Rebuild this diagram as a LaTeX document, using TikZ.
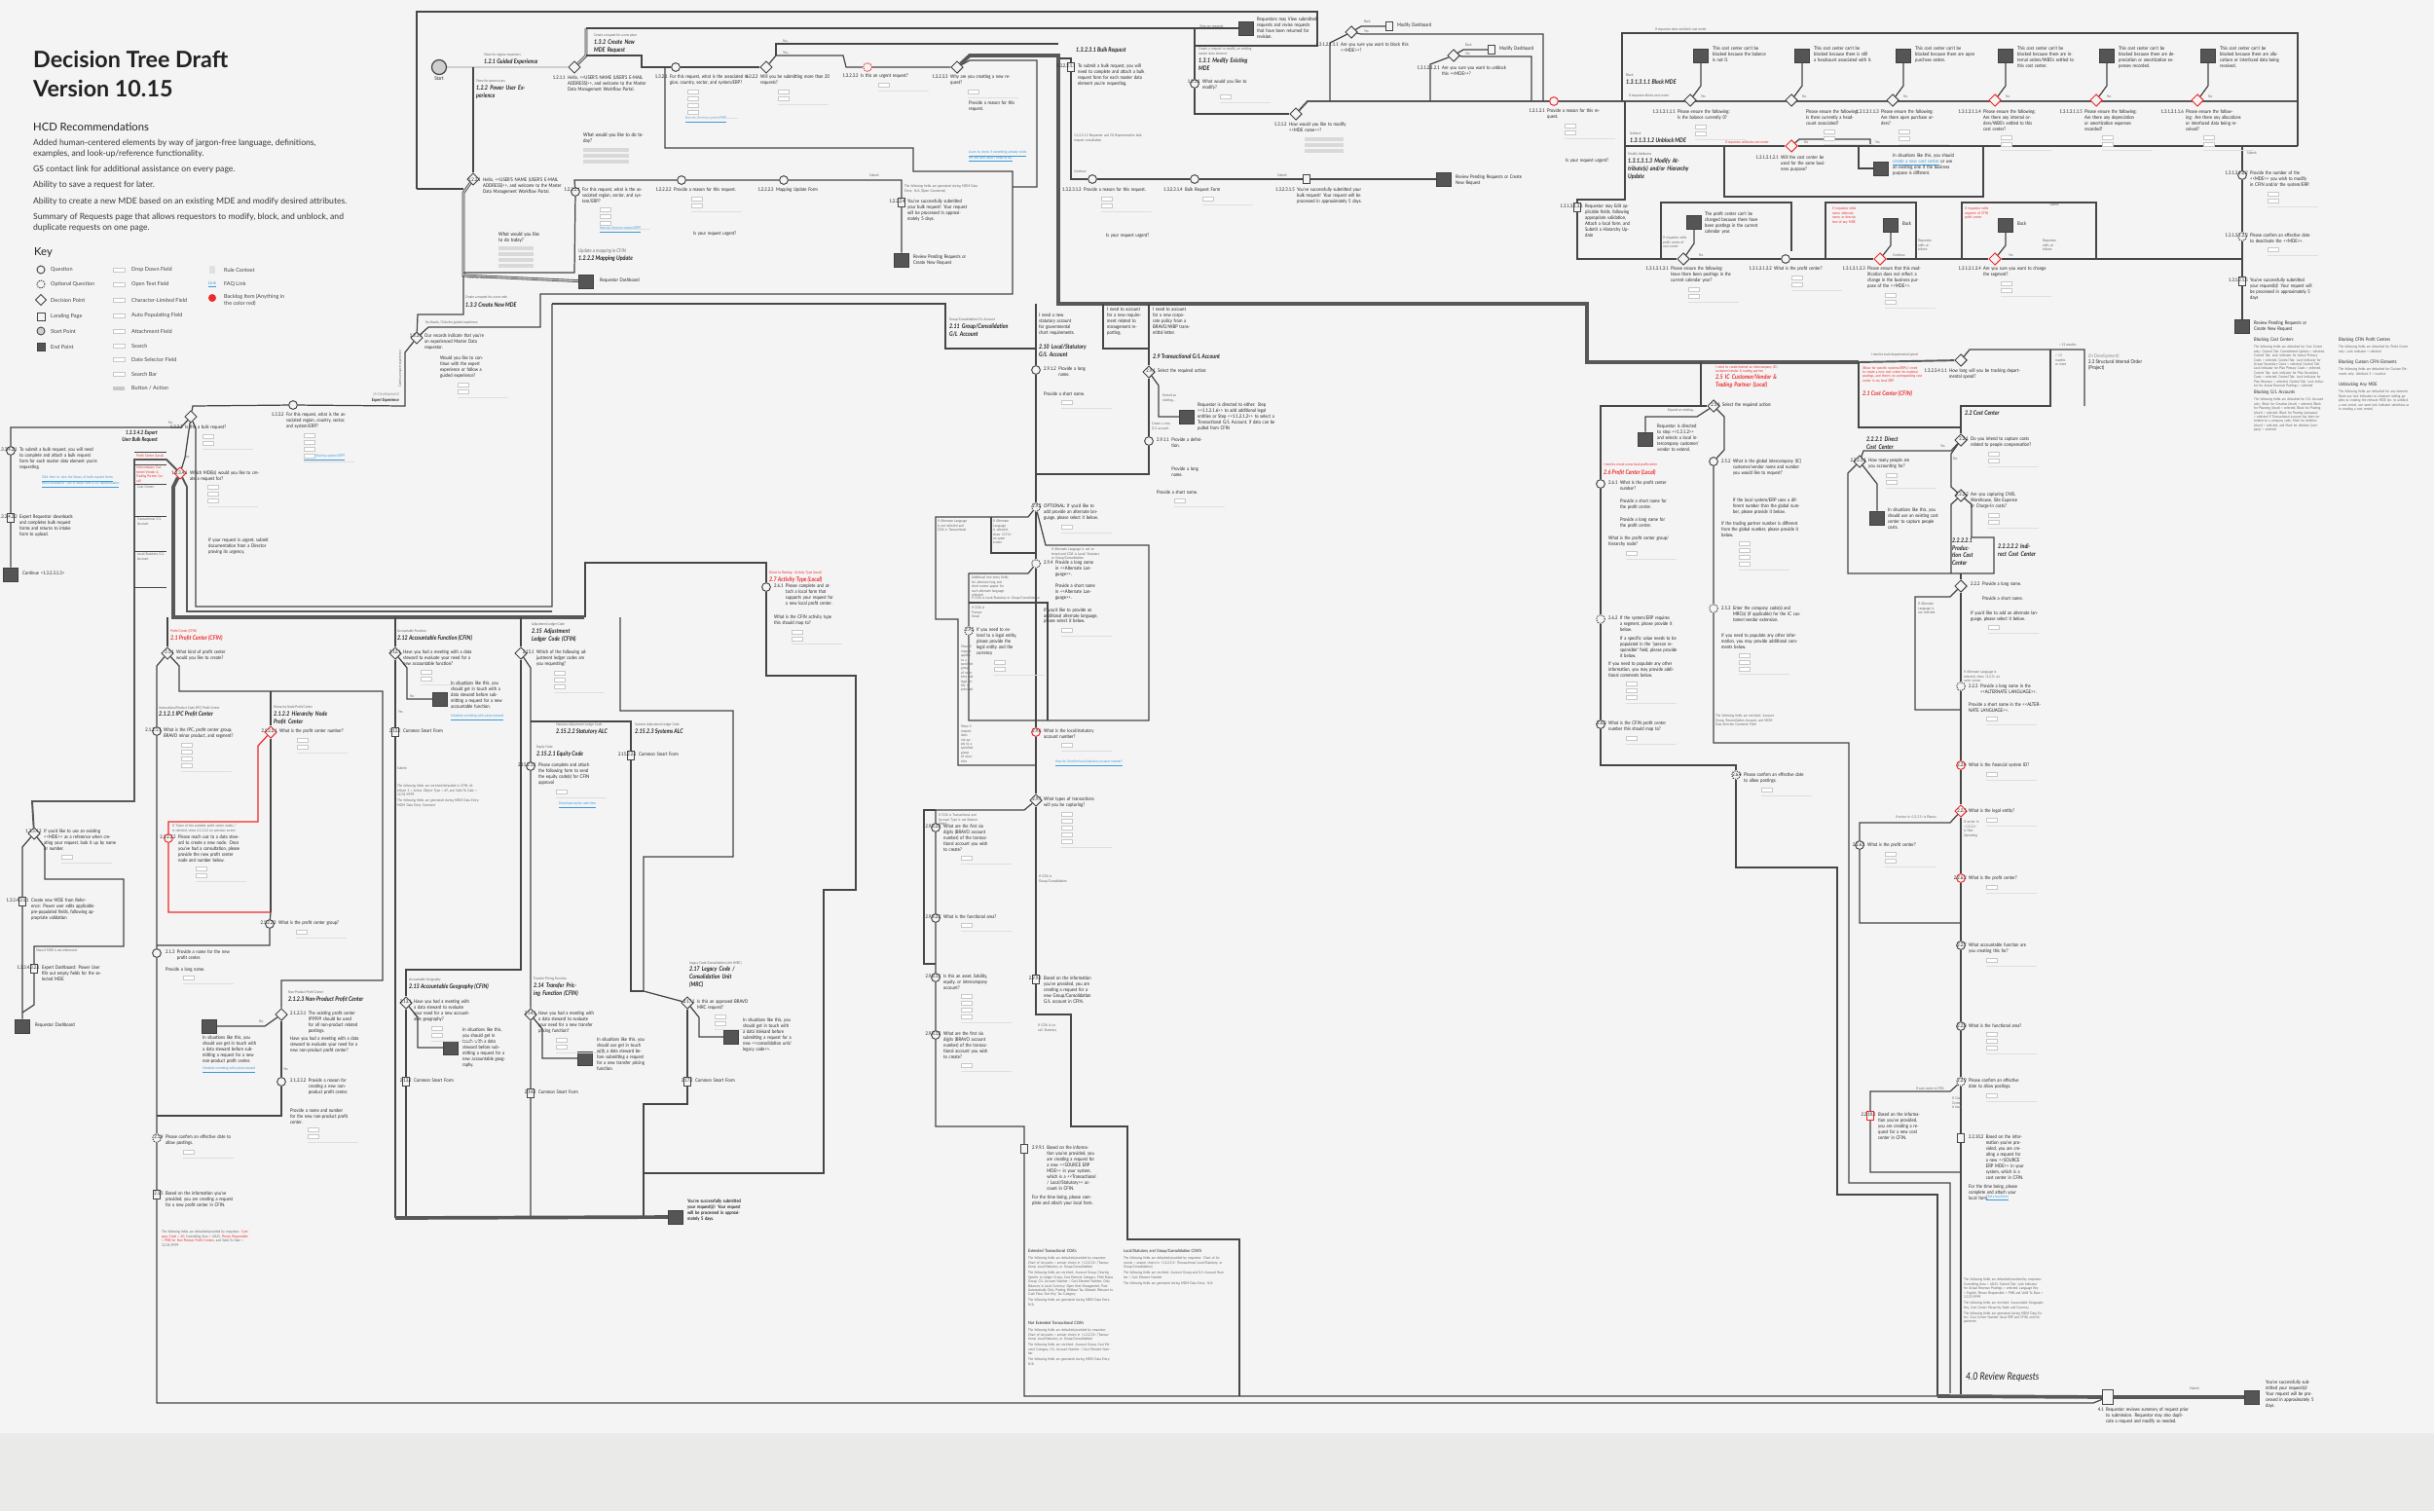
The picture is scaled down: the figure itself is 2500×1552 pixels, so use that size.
\documentclass[tikz,border=0pt]{standalone}
\usepackage{fontspec}
\setmainfont{Lato}
\newfontfamily\cnd[FakeStretch=0.84]{Lato}
\usepackage{xcolor}
\usetikzlibrary{positioning, shapes.geometric, backgrounds, calc}

\definecolor{bgc}{HTML}{F4F4F4}
\definecolor{bandc}{HTML}{EAEAE8}
\definecolor{lnc}{HTML}{464646}
\definecolor{spc}{HTML}{585858}
\definecolor{epc}{HTML}{555555}
\definecolor{stc}{HTML}{CFCFCF}
\definecolor{redc}{HTML}{EE2A2A}
\definecolor{txc}{HTML}{222222}
\definecolor{gtc}{HTML}{8E8E8E}
\definecolor{lkc}{HTML}{3A9AD9}
\definecolor{fldc}{HTML}{C8C8C8}

\newcommand{\qnum}[2]{\setbox0=\hbox{#1\enspace}\leftskip=\wd0\noindent\hspace*{-\wd0}\box0 #2}

\begin{document}
\begin{tikzpicture}[x=0.04cm, y=-0.04cm,
    ln/.style={draw=lnc, line width=1.4pt},
    rln/.style={draw=redc, line width=1.4pt},
    spine/.style={draw=spc, line width=4.2pt},
    mid/.style={draw=spc, line width=2.2pt},
    dbl/.style={draw=lnc, line width=0.9pt, double=stc, double distance=1.4pt},
    qn/.style={circle, draw=lnc, fill=bgc, line width=1.1pt, minimum size=0.35cm, inner sep=0pt},
    oq/.style={qn, dash pattern=on 1.5pt off 1.2pt},
    dp/.style={diamond, draw=lnc, fill=bgc, line width=1.1pt, minimum size=0.5cm, inner sep=0pt},
    lp/.style={rectangle, draw=lnc, fill=bgc, line width=1.1pt, minimum width=0.3cm, minimum height=0.36cm, inner sep=0pt},
    ep/.style={rectangle, draw=black!75, fill=epc, line width=0.8pt, minimum width=0.6cm, minimum height=0.56cm, inner sep=0pt},
    sp/.style={circle, draw=lnc, fill=stc, line width=1.4pt, minimum size=0.6cm, inner sep=0pt},
    fld/.style={draw=fldc, fill=white, line width=0.4pt},
    sep/.style={draw=black!13, line width=0.5pt},
    qtx/.style={anchor=north west, inner sep=0pt, align=left, text width=#1, text=txc, font=\cnd\fontsize{5.7}{6.8}\selectfont},
    qtx/.default=2.6cm,
    hdx/.style={anchor=north west, inner sep=0pt, align=left, text=txc, font=\cnd\bfseries\itshape\fontsize{7.3}{8.6}\selectfont},
    rhd/.style={hdx, text=redc},
    lbl/.style={anchor=north west, inner sep=0pt, align=left, text=gtc!70!black, font=\cnd\fontsize{4.2}{5}\selectfont},
    rlbl/.style={lbl, text=redc},
    lnk/.style={lbl, text=lkc},
    keyt/.style={anchor=west, inner sep=0pt, text=txc!85, font=\fontsize{6.3}{7.5}\selectfont}
]
\useasboundingbox (0,0) rectangle (2500,1552);

% ---------- title and key
\node[anchor=north west, inner sep=0pt, align=left, text=txc, font=\bfseries\fontsize{26.5}{34}\selectfont] (title) at (34,52) {Decision Tree Draft\\Version 10.15};
\node[anchor=north west, inner sep=0pt, text=txc, font=\fontsize{12.8}{15}\selectfont] (hcd) at (34,126) {HCD Recommendations};
\node[anchor=north west, inner sep=0pt, align=left, text=txc!90, font=\fontsize{9.8}{12.5}\selectfont] (hcd1) at (34,143) {Added human-centered elements by way of jargon-free language, definitions,\\examples, and look-up/reference functionality.};
\node[anchor=north west, inner sep=0pt, text=txc!90, font=\fontsize{9.8}{12.5}\selectfont] (hcd2) at (34,170) {GS contact link for additional assistance on every page.};
\node[anchor=north west, inner sep=0pt, text=txc!90, font=\fontsize{9.8}{12.5}\selectfont] (hcd3) at (34,186) {Ability to save a request for later.};
\node[anchor=north west, inner sep=0pt, text=txc!90, font=\fontsize{9.8}{12.5}\selectfont] (hcd4) at (34,203) {Ability to create a new MDE based on an existing MDE and modify desired attributes.};
\node[anchor=north west, inner sep=0pt, align=left, text=txc!90, font=\fontsize{9.8}{12.5}\selectfont] (hcd5) at (34,219) {Summary of Requests page that allows requestors to modify, block, and unblock, and\\duplicate requests on one page.};
\node[anchor=north west, inner sep=0pt, text=txc, font=\fontsize{12.8}{15}\selectfont] (key) at (35,254) {Key};

\node[qn, minimum size=0.32cm] (kq) at (42,277) {};
\node[oq, minimum size=0.32cm] (koq) at (42,292) {};
\node[dp, minimum size=0.46cm] (kd) at (42,308) {};
\node[lp, minimum width=0.32cm, minimum height=0.32cm] (kl) at (42,325) {};
\node[sp, minimum size=0.32cm, line width=1pt] (ks) at (42,340) {};
\node[ep, minimum width=0.32cm, minimum height=0.32cm] (ke) at (42,356) {};
\foreach \yy/\tt [count=\i] in {277/Question, 292/Optional Question, 308/Decision Point, 325/Landing Page, 340/Start Point, 356/End Point}
  \node[keyt] (ka\i) at (52,\yy) {\tt};
\foreach \yy/\tt [count=\i] in {277/Drop Down Field, 292/Open Text Field, 308/Character-Limited Field, 324/Auto Populating Field, 340/Attachment Field, 355/Search / Look Up Field, 369/Date Selector Field, 384/Search Bar}
  {\draw[fld] (116,\yy-2) rectangle (128,\yy+2);
   \node[keyt] (kb\i) at (135,\yy) {\tt};}
\fill[fldc] (116,397) rectangle (128,401);
\node[keyt] (kb9) at (135,399) {Button / Action};
\fill[black!12] (215,273) rectangle (221,281);
\node[keyt] (kc1) at (230,277) {Rule Context};
\node[anchor=center, inner sep=0pt, text=lkc, font=\fontsize{5}{6}\selectfont] (kc0) at (218,292) {\underline{Link}};
\node[keyt] (kc2) at (230,292) {FAQ Link};
\fill[redc] (218,306) circle (4);
\node[keyt, anchor=north west, align=left] (kc3) at (230,302) {Backlog Item (Anything in\\the color red)};

% ---------- markers: start, guided and power user
\node[sp] (st) at (451,69) {};
\node[dp] (d1211) at (590,69) {};
\node[dp] (d1221) at (486,184) {};
\node[qn] (q1321) at (694,69) {};
\node[dp] (d1322) at (787,69) {};
\node[oq, draw=redc] (q13232) at (891,69) {};
\node[dp] (d13233) at (983,69) {};
\node[qn] (q12221) at (591,197) {};
\node[qn] (q12222) at (700,185) {};
\node[qn] (q12223) at (805,185) {};
\node[lp] (l12224) at (926,208) {};
\node[ep] (e_rp1) at (926,267) {};
\node[ep] (e_rd1) at (602,289) {};
\node[dp] (d1331) at (428,347) {};
\node[ep] (e_rv) at (1280,29) {};
\node[qn] (q1311) at (1227,86) {};
\node[dp] (d1312) at (1331,117) {};
\node[dp] (d131211) at (1388,33) {};
\node[lp] (l_md1) at (1427,27) {};
\node[dp] (d131212) at (1493,57) {};
\node[lp] (l_md2) at (1532,51) {};
\node[qn, draw=redc] (q13131) at (1596,104) {};
\node[lp] (l132311) at (1100,69) {};
\node[qn] (q132313) at (1122,184) {};
\node[qn] (q132314) at (1227,184) {};
\node[lp] (l132315) at (1342,184) {};
\node[ep] (e_rp2) at (1483,184) {};

% ---------- block / unblock / modify
\foreach \bx/\sx [count=\i] in {1736/1747, 1840/1851, 1944/1955}
  {\node[ep] (sq\i) at (\sx,57) {}; \node[dp] (bd\i) at (\bx,103) {};}
\foreach \bx/\sx [count=\i from 4] in {2049/2060, 2153/2164, 2257/2268}
  {\node[ep] (sq\i) at (\sx,57) {}; \node[dp, draw=redc] (bd\i) at (\bx,103) {};}
\node[dp, draw=redc] (d131312) at (1840,150) {};
\node[ep] (e_unb) at (1932,173) {};
\node[qn] (q1313122) at (2303,180) {};
\node[oq] (q1313123) at (2303,243) {};
\node[lp] (l131315) at (2303,289) {};
\node[ep] (e_rp3) at (2303,335) {};
\node[lp] (l13131) at (1620,213) {};
\node[ep] (e_pc) at (1740,228) {};
\node[dp] (d131313) at (1729,266) {};
\node[qn] (q1313132) at (1834,266) {};
\node[ep] (e_back1) at (1942,231) {};
\node[dp, draw=redc] (d1313133) at (1931,266) {};
\node[ep] (e_back2) at (2060,231) {};
\node[dp, draw=redc] (d1313134) at (2049,266) {};

% ---------- expert experience, left column
\node[qn] (q1332) at (301,416) {};
\node[dp] (d1333) at (196,428) {};
\node[qn] (q133421) at (11,463) {};
\node[lp] (l133422) at (11,532) {};
\node[ep] (e_cont) at (11,590) {};
\node[dp, draw=redc] (d13341) at (185,486) {};
\node[dp] (d13342) at (35,856) {};
\node[lp] (l13343111) at (23,926) {};
\node[lp] (l13343211) at (35,995) {};
\node[ep] (e_rd2) at (23,1054) {};

% ---------- 2.1 profit center and CFIN elements
\node[dp] (d211) at (172,671) {};
\node[qn] (q21211) at (161,751) {};
\node[dp, draw=redc] (d21221) at (278,752) {};
\node[qn, draw=redc] (q21222) at (173,861) {};
\node[qn] (q212223) at (277,949) {};
\node[qn] (q213) at (161,979) {};
\node[dp] (d21231) at (289,1042) {};
\node[ep] (e_npc) at (215,1054) {};
\node[qn] (q21232) at (289,1111) {};
\node[oq] (q214) at (161,1169) {};
\node[lp] (l215) at (161,1227) {};
\node[dp] (d2121) at (406,671) {};
\node[ep] (e_af) at (452,718) {};
\node[lp] (l2122) at (406,752) {};
\node[dp] (d2151) at (535,671) {};
\node[qn] (q215211) at (545,787) {};
\node[lp] (l215221) at (648,776) {};
\node[dp] (d2131) at (417,1030) {};
\node[ep] (e_ag) at (463,1076) {};
\node[lp] (l2132) at (417,1111) {};
\node[dp] (d2141) at (545,1042) {};
\node[ep] (e_tp) at (601,1087) {};
\node[lp] (l2142) at (545,1123) {};
\node[dp] (d2171) at (706,1030) {};
\node[ep] (e_mrc) at (751,1065) {};
\node[lp] (l2172) at (706,1111) {};
\node[ep] (e_done1) at (694,1250) {};
\node[qn] (q261) at (787,603) {};

% ---------- 2.9 G/L accounts
\node[qn] (q2912) at (1064,380) {};
\node[dp] (d291) at (1180,382) {};
\node[ep] (e_291) at (1219,428) {};
\node[qn] (q2911) at (1180,453) {};
\node[oq] (q293) at (1064,521) {};
\node[oq] (q294) at (1064,579) {};
\node[oq] (q295) at (995,648) {};
\node[qn, draw=redc] (q296) at (1064,752) {};
\node[dp] (d297) at (1064,822) {};
\node[qn] (q29821) at (961,850) {};
\node[qn] (q29822) at (961,943) {};
\node[qn] (q29811) at (961,1004) {};
\node[qn] (q29812) at (961,1063) {};
\node[lp] (l2992) at (1064,1006) {};
\node[lp] (l2991) at (1052,1180) {};

% ---------- 2.5, 2.6, 2.2 and review
\node[dp] (d132341) at (2014,370) {};
\node[dp] (d251) at (1760,417) {};
\node[ep] (e_251) at (1690,451) {};
\node[qn] (q252) at (1760,474) {};
\node[oq] (q253) at (1760,625) {};
\node[qn] (q261b) at (1644,497) {};
\node[oq] (q262) at (1644,636) {};
\node[qn] (q263) at (1644,744) {};
\node[oq] (q264) at (1783,796) {};
\node[dp] (d221) at (2014,452) {};
\node[dp] (d22211) at (1910,474) {};
\node[ep] (e_2221) at (1928,532) {};
\node[dp] (d2222) at (2014,509) {};
\node[dp] (d222) at (2014,602) {};
\node[oq] (q223) at (2014,705) {};
\node[qn, draw=redc] (q224) at (2014,786) {};
\node[dp, draw=redc] (d225) at (2014,833) {};
\node[qn] (q2261) at (1910,868) {};
\node[qn, draw=redc] (q2262) at (2014,902) {};
\node[qn] (q227) at (2014,971) {};
\node[qn] (q228) at (2014,1054) {};
\node[oq] (q229) at (2014,1111) {};
\node[lp, draw=redc] (l22101) at (1921,1146) {};
\node[lp] (l22102) at (2014,1169) {};
\node[lp, minimum width=0.44cm, minimum height=0.6cm] (l41) at (2165,1435) {};
\node[ep] (e_done2) at (2313,1435) {};

% ---------- connectors
\begin{scope}[on background layer]
\fill[bgc] (0,0) rectangle (2500,1472);
\fill[bandc] (0,1472) rectangle (2500,1552);

\draw[ln] (428,194) -- (428,12) -- (1353,12) -- (1353,47) -- (1227,47);
\draw[dbl] (st) -- (d1211);
\draw[ln] (486,69) -- (d1221);
\draw[ln] (428,194) -- (476,194);
\draw[dbl] (d1221) -- (476,198) -- (476,283) -- (e_rd1);
\draw[ln] (476,280) -- (590,280) -- (q12221) -- (590,185) -- (q12222) -- (q12223) -- (926,185) -- (l12224) -- (e_rp1);
\draw[dbl] (d1211) -- (602,57) -- (602,29);
\draw[ln] (602,29) -- (1227,29) -- (q1311) -- (1227,117) -- (d1312);
\draw[ln] (1227,29) -- (e_rv);
\draw[ln] (602,57) -- (659,57) -- (659,69) -- (q1321) -- (d1322);
\draw[ln] (d1322) -- (797,57) -- (866,57) -- (869,69) -- (q13232) -- (d13233);
\draw[ln] (797,57) -- (797,45) -- (1087,45);
\draw[ln] (d13233) -- (996,62) -- (1065,62) -- (1065,192) -- (1040,192);
\draw[ln] (683,69) -- (683,152) -- (938,152) -- (938,176) -- (1040,176) -- (1040,302) -- (555,302) -- (555,336) -- (440,336) -- (d1331);
\draw[ln] (d1331) -- (429,323) -- (476,323) -- (476,283);
\draw[ln] (1087,60) -- (1100,60) -- (l132311) -- (1100,184) -- (q132313) -- (q132314) -- (l132315) -- (e_rp2);
\draw[spine] (d13233) -- (996,57) -- (1087,57) -- (1087,312) -- (1630,312) -- (1630,372) -- (1909,372);
\draw[mid] (1909,372) -- (d132341);

\draw[mid] (d1312) -- (1343,104) -- (2360,104);
\draw[ln] (1366,104) -- (1366,44) -- (d131211);
\draw[ln] (d131211) -- (1398,27) -- (l_md1);
\draw[ln] (d131211) -- (1398,35) -- (1585,35) -- (1585,104);
\draw[ln] (1469,104) -- (1469,66) -- (d131212);
\draw[ln] (d131212) -- (1503,51) -- (l_md2);
\draw[ln] (d131212) -- (1503,58) -- (1573,58) -- (1573,104);
\draw[ln] (1666,104) -- (1666,34) -- (2360,34) -- (2360,150);
\foreach \i/\sx in {1/1747, 2/1851, 3/1955, 4/2060, 5/2164, 6/2268}
  \draw[ln] (sq\i) -- (\sx,88) -- (bd\i);
\draw[ln] (1669,104) -- (1669,205) -- (1620,205) -- (l13131) -- (1620,266) -- (d131313) -- (q1313132) -- (d1313133) -- (d1313134) -- (2303,266);
\draw[ln] (1669,150) -- (d131312) -- (2360,150);
\draw[ln] (d131312) -- (1848,143) -- (1921,143) -- (1921,150);
\draw[ln] (1771,150) -- (1771,202) -- (2037,202) -- (2037,150);
\draw[ln] (1909,150) -- (1909,173) -- (e_unb);
\draw[ln] (2303,150) -- (q1313122) -- (q1313123) -- (l131315) -- (e_rp3);
\draw[ln] (1706,266) -- (1706,208) -- (1840,208) -- (1840,258);
\draw[ln] (1875,266) -- (1875,208) -- (1968,208) -- (1968,266);
\draw[ln] (2015,266) -- (2015,208) -- (2153,208) -- (2153,266);
\draw[ln] (e_pc) -- (1740,250) -- (d131313);
\draw[ln] (e_back1) -- (1942,252) -- (d1313133);
\draw[ln] (e_back2) -- (2060,252) -- (d1313134);

\draw[ln] (d1331) -- (416,362) -- (416,417) -- (q1332) -- (198,417) -- (d1333);
\draw[ln] (567,312) -- (971,312) -- (971,358) -- (1064,358);
\draw[ln] (d1333) -- (201,440) -- (201,623) -- (567,623) -- (567,312);
\draw[ln] (d1333) -- (186,439) -- (11,439) -- (q133421) -- (l133422) -- (e_cont);
\draw[ln] (d1333) -- (190,470) -- (d13341);
\draw[spine] (d13341) -- (178,500) -- (178,634) -- (600,634);
\draw[mid] (d13341) -- (192,500) -- (192,628) -- (567,628);
\draw[mid] (d13341) -- (171,472) -- (138,472) -- (138,823) -- (33,823) -- (d13342);
\foreach \yy in {464,477,497,530,566,603}
  \draw[ln, line width=0.7pt] (138,\yy) -- (171,\yy);
\draw[ln] (d13342) -- (23,870) -- (l13343111) -- (e_rd2);
\draw[ln] (d13342) -- (46,870) -- (46,903) -- (127,903) -- (127,972) -- (35,972) -- (l13343211) -- (35,1032) -- (23,1040);

\draw[ln] (172,634) -- (d211);
\draw[ln] (d211) -- (161,684) -- (q21211) -- (q213) -- (q214) -- (l215) -- (161,1441) -- (2150,1441) -- (l41);
\draw[ln] (d211) -- (184,684) -- (184,710) -- (393,710) -- (393,1007) -- (289,1007) -- (d21231);
\draw[ln] (278,710) -- (d21221) -- (278,937);
\draw[rln] (d21221) -- (265,766) -- (265,844) -- (173,844) -- (q21222) -- (173,937) -- (278,937);
\draw[ln] (278,937) -- (q212223) -- (277,971) -- (161,971);
\draw[ln] (d21231) -- (272,1054) -- (e_npc);
\draw[ln] (d21231) -- (q21232) -- (289,1146) -- (161,1146);

\draw[ln] (406,634) -- (d2121) -- (l2122) -- (406,1251);
\draw[ln] (d2121) -- (418,686) -- (418,718) -- (e_af);
\draw[ln] (535,634) -- (d2151) -- (535,996) -- (417,996) -- (d2131) -- (l2132) -- (417,1251);
\draw[ln] (d2131) -- (429,1045) -- (429,1076) -- (e_ag);
\draw[ln] (d2151) -- (545,686) -- (q215211) -- (d2141) -- (l2142) -- (545,1251);
\draw[ln] (d2141) -- (557,1057) -- (557,1087) -- (e_tp);
\draw[ln] (545,741) -- (648,741) -- (l215221) -- (648,1018) -- (661,1018);
\draw[ln] (637,634) -- (637,730) -- (753,730) -- (753,880) -- (661,880) -- (661,1018) -- (d2171);
\draw[ln] (d2171) -- (718,1045) -- (718,1065) -- (e_mrc);
\draw[ln] (d2171) -- (l2172) -- (706,1134) -- (661,1134) -- (661,1251);
\draw[spine] (406,1251) -- (e_done1);
\draw[ln] (661,1205) -- (846,1205) -- (846,914) -- (879,914) -- (879,694) -- (787,694) -- (q261) -- (787,578) -- (601,578) -- (601,634);

\draw[ln] (1064,312) -- (q2912) -- (1064,487);
\draw[ln] (1133,312) -- (1133,358) -- (1180,358);
\draw[ln] (1180,312) -- (d291) -- (q2911) -- (1180,487) -- (1064,487);
\draw[ln] (d291) -- (1190,396) -- (1190,428) -- (e_291);
\draw[ln] (1064,487) -- (q293) -- (q294) -- (q296) -- (d297);
\draw[ln] (q293) -- (1056,531) -- (961,531) -- (961,636) -- (984,636) -- (984,786) -- (1064,786);
\draw[ln] (1018,531) -- (1018,568) -- (1064,568);
\draw[ln] (q293) -- (1074,560) -- (1180,560) -- (1180,740) -- (1064,740);
\draw[ln] (q294) -- (1056,589) -- (995,589) -- (q295) -- (995,740) -- (1064,740);
\draw[ln] (995,619) -- (1076,619) -- (1076,740);
\draw[ln] (d297) -- (1052,832) -- (961,832) -- (q29821) -- (q29822) -- (q29811) -- (q29812) -- (961,1157) -- (1052,1157) -- (l2991) -- (1052,1434) -- (1990,1434);
\draw[ln] (961,832) -- (949,832) -- (949,990) -- (961,990);
\draw[ln] (d297) -- (1064,840) -- (l2992) -- (1064,1042) -- (1100,1042) -- (1100,1157) -- (1158,1157) -- (1158,1273) -- (1273,1273) -- (1273,1434);

\draw[ln] (1747,372) -- (1747,417) -- (d251);
\draw[ln] (1747,417) -- (1644,417) -- (q261b) -- (q262) -- (q263) -- (1644,786) -- (1783,786) -- (q264) -- (1783,891) -- (1887,891) -- (1887,1227) -- (1990,1227) -- (1990,1434);
\draw[ln] (d251) -- (1743,428) -- (1690,428) -- (e_251);
\draw[ln] (d251) -- (1771,428) -- (1771,462) -- (q252) -- (q253) -- (1760,763) -- (1899,763) -- (1899,1215) -- (2003,1215) -- (2003,1431);
\draw[ln] (1909,372) -- (1909,439) -- (2014,439) -- (d221);
\draw[ln] (d132341) -- (2023,359) -- (2141,359) -- (2141,417);
\draw[ln] (2106,359) -- (2106,417) -- (2014,417) -- (2014,439);
\draw[ln] (d221) -- (2004,463) -- (1914,463) -- (d22211);
\draw[ln] (d22211) -- (1898,486) -- (1898,589) -- (2048,589) -- (2048,552) -- (2025,552) -- (2025,518) -- (d2222);
\draw[ln] (d22211) -- (1928,497) -- (e_2221);
\draw[ln] (d221) -- (2004,466) -- (2004,500) -- (d2222);
\draw[ln] (d2222) -- (2004,518) -- (2004,589);
\draw[ln] (2014,589) -- (d222) -- (q223) -- (q224) -- (d225) -- (q2262) -- (q227) -- (q228) -- (q229) -- (l22102) -- (2014,1432);
\draw[ln] (d222) -- (2003,613) -- (1967,613) -- (1967,729) -- (2014,729);
\draw[ln] (d225) -- (2003,845) -- (1910,845) -- (q2261) -- (1910,948) -- (2014,948);
\draw[ln] (q229) -- (2003,1121) -- (1921,1121) -- (l22101) -- (1921,1204) -- (2014,1204);
\draw[spine] (1990,1434) -- (l41) -- (e_done2);
\end{scope}

% ---------- texts, top flow
\node[anchor=north, inner sep=0pt, text=txc, font=\cnd\fontsize{6}{7}\selectfont] (tst) at (451,78) {Start};
\node[lbl] (t121a) at (497,55) {Show for regular requestors};
\node[hdx] (t121) at (497,61) {1.2.1 Guided Experience};
\node[lbl] (t122a) at (489,82) {Show for power users};
\node[hdx, text width=2.2cm] (t122) at (489,88) {1.2.2 Power User Experience};
\node[lbl] (t132a) at (610,35) {Create a request for a new place};
\node[hdx, text width=2.2cm] (t132) at (610,41) {1.3.2 Create New MDE Request};
\node[qtx=3.4cm] (t1211) at (583,77) {\qnum{1.2.1.1}{Hello, <<USER'S NAME (USER'S E-MAIL ADDRESS)>>, and welcome to the Master Data Management Workflow Portal.}};
\node[qtx=2.6cm, font=\cnd\fontsize{6}{7.2}\selectfont] (t1211b) at (599,136) {What would you like to do today?};
\foreach \yy [count=\i] in {152,158,164} \fill[black!15] (599,\yy) rectangle (646,\yy+4);
\node[qtx=3.5cm] (t1321) at (688,77) {\qnum{1.3.2.1}{For this request, what is the associated region, country, sector, and system/ERP?}};
\node[lnk] (t1321l) at (704,120) {\underline{How do I find my system/ERP?}};
\node[qtx=3cm] (t1322) at (781,77) {\qnum{1.3.2.2}{Will you be submitting more than 20 requests?}};
\node[lbl] (tno1) at (804,41) {No...};
\node[lbl] (tyes1) at (804,53) {Yes...};
\node[qtx=2.8cm] (t13232) at (884,76) {\qnum{1.3.2.3.2}{Is this an urgent request?}};
\node[qtx=2.7cm] (t13233) at (976,77) {\qnum{1.3.2.3.3}{Why are you creating a new request?}};
\node[qtx=2cm] (t13233b) at (995,104) {Provide a reason for this request.};
\node[lnk, text width=2.2cm] (t13233l) at (995,155) {\underline{Learn to check if something already exists}\\\underline{I'm not sure what I need to do.}};
\node[qtx=3.3cm] (t1221) at (496,182) {\qnum{1.2.2.1}{Hello, <<USER'S NAME (USER'S E-MAIL ADDRESS)>>, and welcome to the Master Data Management Workflow Portal.}};
\node[qtx=1.9cm, font=\cnd\fontsize{6}{7.2}\selectfont] (t1221b) at (512,238) {What would you like to do today?};
\foreach \yy [count=\i] in {253,259,265,271} \fill[black!15] (512,\yy) rectangle (548,\yy+4);
\node[qtx=2.6cm] (t12221) at (598,193) {\qnum{1.2.2.2.1}{For this request, what is the associated region, sector, and system/ERP?}};
\node[lnk] (t12221l) at (616,233) {\underline{How do I find my system/ERP?}};
\node[qtx=3cm] (t12222) at (692,193) {\qnum{1.2.2.2.2}{Provide a reason for this request.}};
\node[qtx=2cm] (t12222b) at (712,238) {Is your request urgent?};
\node[qtx=3.4cm] (t12223) at (797,193) {\qnum{1.2.2.2.3}{Mapping Update Form}};
\node[lbl] (tsub1) at (893,179) {Submit};
\node[lbl, text width=3cm] (t1222f) at (929,190) {The following fields are generated during MDM Data Entry: N/A (Open Comments)};
\node[qtx=2.6cm] (t12224) at (932,205) {\qnum{1.2.2.2.4}{You've successfully submitted your bulk request! Your request will be processed in approximately 5 days.}};
\node[qtx=2.3cm] (trp1) at (938,262) {Review Pending Requests or Create New Request};
\node[anchor=north west, inner sep=0pt, text=gtc!80!black, font=\cnd\itshape\fontsize{6}{7}\selectfont] (t1222a) at (594,255) {Update a mapping in CFIN};
\node[hdx] (t1222) at (594,263) {1.2.2.2 Mapping Update};
\node[qtx=2.2cm] (trd1) at (616,286) {Requestor Dashboard};
\node[lbl] (tvmr1) at (480,284) {View my requests};
\node[lbl] (t133a) at (478,304) {Create a request for a new mde};
\node[hdx] (t133) at (478,311) {1.3.3 Create New MDE};
\node[lbl] (tnth) at (437,330) {No thanks, I'll do the guided experience};
\node[qtx=2.5cm] (t1331) at (436,343) {\qnum{1.3.3.1}{Our records indicate that you're an experienced Master Data requestor.}};
\node[qtx=2cm] (t1331b) at (452,366) {Would you like to continue with the expert experience or follow a guided experience?};
\node[anchor=north east, inner sep=0pt, align=right, text=txc, font=\cnd\fontsize{5}{6.2}\selectfont] (texp) at (410,403) {\textit{\color{gtc}(In Development)}\\\textbf{\textit{Expert Experience}}};
\node[lbl, rotate=90, anchor=south west] (tcee) at (413,398) {Continue expert experience};

\node[qtx=2.5cm] (trv) at (1291,18) {Requestors may View submitted requests and revise requests that have been returned for revision.};
\node[lbl] (tvmr2) at (1232,26) {View my requests};
\node[lbl, text width=2.3cm] (t131a) at (1231,49) {Create a request to modify an existing master data element.};
\node[hdx, text width=2.3cm] (t131) at (1231,60) {1.3.1 Modify Existing MDE};
\node[qtx=2.1cm] (t1311) at (1235,82) {\qnum{1.3.1.1}{What would you like to modify?}};
\node[qtx=2.8cm] (t1312) at (1324,126) {\qnum{1.3.1.2}{How would you like to modify <<MDE name>>?}};
\foreach \yy [count=\i] in {141,147,153} \fill[black!15] (1340,\yy) rectangle (1380,\yy+4);
\node[lbl] (tbk1) at (1401,21) {Back};
\node[lbl] (tys1) at (1401,31) {Yes};
\node[qtx=1.4cm] (tmd1) at (1435,24) {Modify Dashboard};
\node[qtx=2.8cm] (t131211) at (1377,44) {\qnum{1.3.1.2.1.1.1}{Are you sure you want to block this <<MDE>>?}};
\node[lbl] (tbk2) at (1505,45) {Back};
\node[lbl] (tys2) at (1505,54) {Yes};
\node[qtx=1.4cm] (tmd2) at (1540,48) {Modify Dashboard};
\node[qtx=2.9cm] (t131212) at (1481,68) {\qnum{1.3.1.2.1.2.1}{Are you sure you want to unblock this <<MDE>>?}};
\node[qtx=2.4cm] (t13131) at (1589,112) {\qnum{1.3.1.3.1}{Provide a reason for this request.}};
\node[qtx=2cm] (t13131b) at (1608,163) {Is your request urgent?};
\node[hdx] (t1323) at (1105,49) {1.3.2.3.1 Bulk Request};
\node[qtx=2.9cm] (t132311) at (1107,66) {\qnum{1.3.2.3.1.1}{To submit a bulk request, you will need to complete and attach a bulk request form for each master data element you're requesting.}};
\node[lbl, text width=2.8cm] (t132312) at (1103,138) {1.3.2.3.1.2 Requestor and GS Representative bulk request consultation};
\node[lbl] (tcont) at (1103,175) {Continue};
\node[qtx=3cm] (t132313) at (1113,193) {\qnum{1.3.2.3.1.3}{Provide a reason for this request.}};
\node[qtx=2cm] (t132313b) at (1136,240) {Is your request urgent?};
\node[qtx=2.6cm] (t132314) at (1217,193) {\qnum{1.3.2.3.1.4}{Bulk Request Form}};
\node[lbl] (tsub2) at (1312,179) {Submit};
\node[qtx=3cm] (t132315) at (1332,193) {\qnum{1.3.2.3.1.5}{You've successfully submitted your bulk request! Your request will be processed in approximately 5 days.}};
\node[qtx=2.8cm] (trp2) at (1495,180) {Review Pending Requests or Create New Request};

% ---------- texts, block / unblock / modify
\node[lbl] (tnbc) at (1700,29) {If requestor does not block cost center};
\foreach \sx/\tt [count=\i] in {1759/{This cost center can't be blocked because the balance is not 0.}, 1863/{This cost center can't be blocked because there is still a headcount associated with it.}, 1967/{This cost center can't be blocked because there are open purchase orders.}, 2072/{This cost center can't be blocked because there are internal orders/WBS's settled to this cost center.}, 2176/{This cost center can't be blocked because there are depreciation or amortization expenses recorded.}, 2280/{This cost center can't be blocked because there are allocations or interfaced data being received.}}
  \node[qtx=2.5cm] (tsq\i) at (\sx,48) {\tt};
\foreach \bx/\tt [count=\i] in {1723/{\qnum{1.3.1.3.1.1.1}{Please ensure the following: Is the balance currently 0?}}, 1855/{Please ensure the following: Is there currently a headcount associated?}, 1932/{\qnum{1.3.1.3.1.1.3}{Please ensure the following: Are there open purchase orders?}}, 2037/{\qnum{1.3.1.3.1.1.4}{Please ensure the following: Are there any internal orders/WBS's settled to this cost center?}}, 2141/{\qnum{1.3.1.3.1.1.5}{Please ensure the following: Are there any depreciation or amortization expenses recorded?}}, 2245/{\qnum{1.3.1.3.1.1.6}{Please ensure the following: Are there any allocations or interfaced data being received?}}}
  \node[qtx=2.3cm] (tbd\i) at (\bx,113) {\tt};
\foreach \xx/\tt [count=\i] in {1747/Yes, 1851/No, 1955/No, 2060/No, 2164/No, 2268/No}
  \node[lbl] (tyn\i) at (\xx,98) {\tt};
\node[lbl] (tblk) at (1670,76) {Block};
\node[hdx] (tblkh) at (1670,82) {1.3.1.3.1.1 Block MDE};
\node[lbl] (tbcc) at (1673,97) {If requestor blocks cost center};
\node[lbl] (tublk) at (1674,136) {Unblock};
\node[hdx] (tublkh) at (1674,142) {1.3.1.3.1.2 Unblock MDE};
\node[rlbl] (tucc) at (1772,145) {If requestor unblocks cost center};
\node[lbl] (tno3) at (1853,145) {No};
\node[lbl] (tyes3) at (1926,145) {Yes};
\node[qtx=2cm] (t131312) at (1829,160) {\qnum{1.3.1.3.1.2.1}{Will the cost center be used for the same business purpose?}};
\node[qtx=2.6cm] (tunb) at (1944,158) {In situations like this, you should {\color{lkc}\underline{create a new cost center}} or use an existing one if the business purpose is different.};
\node[lbl] (tsub3) at (2308,156) {Submit};
\node[qtx=2.6cm] (t1313122) at (2311,176) {\qnum{1.3.1.3.1.2.2}{Provide the number of the <<MDE>> you wish to modify in CFIN and/or the system/ERP.}};
\node[qtx=2.6cm] (t1313123) at (2311,240) {\qnum{1.3.1.3.1.2.3}{Please confirm an effective date to deactivate the <<MDE>>.}};
\node[qtx=2.6cm] (t131315) at (2311,286) {\qnum{1.3.1.3.1.5}{You've successfully submitted your request(s)! Your request will be processed in approximately 5 days}};
\node[qtx=2.4cm] (trp3) at (2315,330) {Review Pending Requests or Create New Request};
\node[lbl] (tmoda) at (1672,157) {Modify Attributes};
\node[hdx, text width=2.6cm] (tmodh) at (1672,163) {1.3.1.3.1.3 Modify Attribute(s) and/or Hierarchy Update};
\node[qtx=2cm] (t13131c) at (1628,210) {\qnum{1.3.1.3.1.3.1}{Requestor may Edit applicable fields, following appropriate validation, Attach a local form, and Submit a Hierarchy Update}};
\node[qtx=2.2cm] (tpc) at (1751,218) {The profit center can't be changed because there have been postings in the current calendar year.};
\node[lbl, text width=1cm] (tepc) at (1708,243) {If requestor edits profit center of cost center};
\node[lbl] (tno4) at (1745,261) {No};
\node[qtx=2.6cm] (t131313) at (1716,274) {\qnum{1.3.1.3.1.3.1}{Please ensure the following: Have there been postings in the current calendar year?}};
\node[qtx=2.2cm] (t1313132) at (1822,274) {\qnum{1.3.1.3.1.3.2}{What is the profit center?}};
\node[rlbl, text width=1.1cm] (tenm) at (1882,213) {If requestor edits name, alternate name, or description of any MDE};
\node[qtx=1cm] (tbk3) at (1954,228) {Back};
\node[lbl, text width=0.7cm] (trea1) at (1970,246) {Requestor edits attribute};
\node[lbl] (tcon2) at (1944,261) {Continue};
\node[qtx=2.4cm] (t1313133) at (1918,274) {\qnum{1.3.1.3.1.3.3}{Please ensure that this modification does not reflect a change in the business purpose of the <<MDE>>.}};
\node[rlbl, text width=1.1cm] (tesg) at (2018,213) {If requestor edits segment of CFIN profit center};
\node[qtx=1cm] (tbk4) at (2072,228) {Back};
\node[lbl, text width=0.7cm] (trea2) at (2098,246) {Requestor edits attribute};
\node[lbl] (tyes4) at (2063,261) {Yes};
\node[qtx=2.6cm] (t1313134) at (2037,274) {\qnum{1.3.1.3.1.3.4}{Are you sure you want to change the segment?}};
\node[lbl] (tsub4) at (2105,209) {Submit};

% ---------- texts, expert experience and CFIN
\node[qtx=2.6cm] (t1332) at (294,424) {\qnum{1.3.3.2}{For this request, what is the associated region, country, sector, and system/ERP?}};
\node[lnk] (t1332l) at (312,467) {\underline{How do I find my system/ERP?}};
\node[qtx=2.4cm] (t1333) at (190,437) {\qnum{1.3.3.3}{Is this a bulk request?}};
\node[lbl] (tno5) at (173,433) {No};
\node[lbl] (tno6) at (190,468) {No};
\node[anchor=north east, inner sep=0pt, align=right, text=txc, font=\cnd\bfseries\itshape\fontsize{6.5}{7.8}\selectfont] (t13342) at (162,442) {1.3.3.4.2 Expert\\User Bulk Request};
\node[qtx=3.2cm] (t133421) at (20,460) {\qnum{1.3.3.4.2.1}{To submit a bulk request, you will need to complete and attach a bulk request form for each master data element you're requesting.}};
\node[lnk, text width=2.6cm] (t133421l) at (43,489) {\underline{Click here to view the library of bulk request forms}\\\underline{Need assistance? Get in touch with a GS representative}};
\node[qtx=2.3cm] (t133422) at (20,529) {\qnum{1.3.3.4.2.2}{Expert Requestor downloads and completes bulk request forms and returns to intake form to upload.}};
\node[qtx=2.6cm] (tcont2) at (23,587) {Continue <1.3.2.3.1.3>};
\node[qtx=3cm] (t13341) at (195,483) {\qnum{1.3.3.4.1}{Which MDE(s) would you like to create a request for?}};
\node[qtx=2.5cm] (t13341b) at (214,553) {If your request is urgent, submit documentation from a Director proving its urgency.};
\node[rlbl, text width=1.2cm] (tpcl) at (140,466) {Profit Center (Local)};
\node[rlbl, text width=1.2cm] (ticcl) at (140,479) {Intercompany Customer/Vendor \& Trading Partner (Local)};
\node[lbl, text width=1.2cm] (tccl) at (141,499) {Cost Center};
\node[lbl, text width=1.2cm] (ttgl) at (141,532) {Transactional G/L Account};
\node[lbl, text width=1.2cm] (tlsgl) at (141,568) {Local/Statutory G/L Account};
\node[qtx=3cm] (t13342b) at (45,852) {\qnum{1.3.3.4.2}{If you'd like to use an existing <<MDE>> as a reference when creating your request, look it up by name or number.}};
\node[qtx=2.6cm] (t13343111) at (32,923) {\qnum{1.3.3.4.3.1.1}{Create new MDE from Reference: Power user edits applicable pre-populated fields, following appropriate validation}};
\node[lbl] (tsnr) at (37,975) {Show if MDE is not referenced};
\node[qtx=2.6cm] (t13343211) at (43,992) {\qnum{1.3.3.4.3.2.1}{Expert Dashboard: Power User fills out empty fields for the selected MDE}};
\node[qtx=2.4cm] (trd2) at (36,1051) {Requestor Dashboard};

\node[rlbl] (t21a) at (175,646) {Profit Center (CFIN)};
\node[rhd] (t21) at (175,652) {2.1 Profit Center (CFIN)};
\node[qtx=2.5cm] (t211) at (181,668) {\qnum{2.1.1}{What kind of profit center would you like to create?}};
\node[lbl] (t2121a) at (163,725) {International Product Code (IPC) Profit Center};
\node[hdx] (t2121) at (163,731) {2.1.2.1 IPC Profit Center};
\node[qtx=3.3cm] (t21211) at (168,748) {\qnum{2.1.2.1.1}{What is the IPC, profit center group, BRAVO minor product, and segment?}};
\node[lbl] (t2122a) at (281,725) {Hierarchy Node Profit Center};
\node[hdx, text width=2.2cm] (t2122) at (281,731) {2.1.2.2 Hierarchy Node Profit Center};
\node[qtx=3.3cm] (t21221) at (287,749) {\qnum{2.1.2.2.1}{What is the profit center number?}};
\node[lbl, text width=2.7cm] (t2122r) at (177,847) {If "None of the available profit center nodes..." is selected, show 2.1.2.2.2 on previous screen};
\node[qtx=2.6cm] (t21222) at (183,858) {\qnum{2.1.2.2.2}{Please reach out to a data steward to create a new node. Once you've had a consultation, please provide the new profit center node and number below.}};
\node[qtx=2.6cm] (t212223) at (286,946) {\qnum{2.1.2.2.3}{What is the profit center group?}};
\node[qtx=2.8cm] (t213) at (170,976) {\qnum{2.1.3}{Provide a name for the new profit center.}\par\vspace{6pt}Provide a long name.};
\node[lbl] (t2123a) at (296,1018) {Non-Product Profit Center};
\node[hdx] (t2123) at (296,1024) {2.1.2.3 Non-Product Profit Center};
\node[qtx=2.9cm] (t21231) at (298,1039) {\qnum{2.1.2.3.1}{The existing profit center IP9999 should be used for all non-product related postings.}\par\vspace{2pt}Have you had a meeting with a data steward to evaluate your need for a new non-product profit center?};
\node[qtx=2.3cm] (tnpc) at (208,1064) {In situations like this, you should use get in touch with a data steward before submitting a request for a new non-product profit center.};
\node[lnk] (tnpcl) at (208,1096) {\underline{Schedule a meeting with a data steward}};
\node[lbl] (tno7) at (266,1048) {No};
\node[lbl] (tyes7) at (291,1097) {Yes};
\node[qtx=2.5cm] (t21232) at (298,1108) {\qnum{2.1.2.3.2}{Provide a reason for creating a new non-product profit center.}\par\vspace{14pt}Provide a name and number for the new non-product profit center.};
\node[qtx=2.8cm] (t214) at (170,1166) {\qnum{2.1.4}{Please confirm an effective date to allow postings.}};
\node[qtx=2.8cm] (t215) at (170,1224) {\qnum{2.1.5}{Based on the information you've provided, you are creating a request for a new profit center in CFIN.}};
\node[lbl, text width=3.6cm] (t215f) at (166,1264) {The following fields are defaulted/provided by requestor: {\color{redc}Company Code = A0}, Controlling Area = JAUG, {\color{redc}Person Responsible = PHB for Non-Product Profit Centers}, and Valid To Date = 12/31/9999};

\node[lbl] (t212a) at (408,647) {Accountable Function};
\node[hdx] (t212) at (408,652) {2.12 Accountable Function (CFIN)};
\node[qtx=3cm] (t2121q) at (414,668) {\qnum{2.12.1}{Have you had a meeting with a data steward to evaluate your need for a new accountable function?}};
\node[qtx=2.3cm] (taf) at (463,700) {In situations like this, you should get in touch with a data steward before submitting a request for a new accountable function.};
\node[lnk] (tafl) at (463,734) {\underline{Schedule a meeting with a data steward}};
\node[lbl] (tno8) at (421,714) {No};
\node[lbl] (tyes8) at (409,730) {Yes};
\node[qtx=2.4cm] (t2122q) at (414,749) {\qnum{2.12.2}{Common Smart Form}};
\node[lbl] (tsub5) at (408,788) {Submit};
\node[lbl, text width=3.4cm] (t212f) at (408,806) {The following fields are enriched/defaulted in CFIN: Attribute 3 = Active, Object Type = AF, and Valid To Date = 12/31/9999\par\vspace{2pt}The following fields are generated during MDM Data Entry: MDM Data Entry Comment};
\node[lbl] (t215a) at (546,640) {Adjustment Ledger Code};
\node[hdx, text width=2.2cm] (t215h) at (546,646) {2.15 Adjustment Ledger Code (CFIN)};
\node[qtx=2.2cm] (t2151) at (551,668) {\qnum{2.15.1}{Which of the following adjustment ledger codes are you requesting?}};
\node[lbl] (t21522a) at (571,743) {Statutory Adjustment Ledger Code};
\node[hdx] (t21522) at (571,749) {2.15.2.2 Statutory ALC};
\node[lbl] (t21523a) at (652,743) {Systems Adjustment Ledger Code};
\node[hdx] (t21523) at (652,749) {2.15.2.3 Systems ALC};
\node[lbl] (t21521a) at (551,766) {Equity Code};
\node[hdx] (t21521) at (551,772) {2.15.2.1 Equity Code};
\node[qtx=2.2cm] (t215211) at (553,784) {\qnum{2.15.2.1.1}{Please complete and attach the following form to send the equity code(s) for CFIN approval}};
\node[lnk] (t215211l) at (574,824) {\underline{Download equity code form}};
\node[qtx=2.4cm] (t215221) at (656,773) {\qnum{2.15.2.2.1}{Common Smart Form}};
\node[lbl] (t217a) at (708,987) {Legacy Code/Consolidation Unit (MRC)};
\node[hdx, text width=2.3cm] (t217) at (708,993) {2.17 Legacy Code / Consolidation Unit (MRC)};
\node[qtx=2.4cm] (t2171) at (716,1027) {\qnum{2.17.1}{Is this an approved BRAVO MRC request?}};
\node[qtx=2cm] (tmrc) at (763,1046) {In situations like this, you should get in touch with a data steward before submitting a request for a new <<consolidation unit/ legacy code>>.};
\node[qtx=2.4cm] (t2172) at (714,1108) {\qnum{2.17.2}{Common Smart Form}};
\node[lbl] (t213a) at (420,1005) {Accountable Geography};
\node[hdx] (t213h) at (420,1010) {2.13 Accountable Geography (CFIN)};
\node[qtx=2.4cm] (t2131) at (425,1027) {\qnum{2.13.1}{Have you had a meeting with a data steward to evaluate your need for a new accountable geography?}};
\node[qtx=1.8cm] (tag) at (475,1056) {In situations like this, you should get in touch with a data steward before submitting a request for a new accountable geography.};
\node[qtx=2.2cm] (t2132) at (425,1108) {\qnum{2.13.2}{Common Smart Form}};
\node[lbl] (t214a) at (548,1004) {Transfer Pricing Function};
\node[hdx, text width=1.9cm] (t214h) at (548,1010) {2.14 Transfer Pricing Function (CFIN)};
\node[qtx=2.4cm] (t2141) at (553,1039) {\qnum{2.14.1}{Have you had a meeting with a data steward to evaluate your need for a new transfer pricing function?}};
\node[qtx=2cm] (ttp) at (613,1066) {In situations like this, you should use get in touch with a data steward before submitting a request for a new transfer pricing function.};
\node[qtx=2.2cm] (t2142) at (553,1120) {\qnum{2.14.2}{Common Smart Form}};
\node[qtx=2.2cm, font=\cnd\bfseries\fontsize{5.5}{6.6}\selectfont] (tdone1) at (706,1232) {You've successfully submitted your request(s)! Your request will be processed in approximately 5 days.};
\node[rlbl] (t27a) at (790,586) {Direct to Routing - Activity Type (Local)};
\node[rhd] (t27) at (790,592) {2.7 Activity Type (Local)};
\node[qtx=2.5cm] (t261) at (795,600) {\qnum{2.6.1}{Please complete and attach a local form that supports your request for a new local profit center.}\par\vspace{9pt}What is the CFIN activity type this should map to?};

% ---------- texts, G/L accounts
\node[lbl] (t211a) at (975,327) {Group/Consolidation G/L Account};
\node[hdx, text width=2.5cm] (t211h) at (975,333) {2.11 Group/Consolidation G/L Account};
\node[qtx=1.5cm] (t210a) at (1067,322) {I need a new statutory account for governmental chart requirements.};
\node[hdx, text width=2cm] (t210h) at (1067,354) {2.10 Local/Statutory G/L Account};
\node[qtx=1.5cm] (t29a) at (1137,316) {I need to account for a new requirement related to management reporting.};
\node[qtx=1.6cm] (t29b) at (1184,316) {I need to account for a new corporate policy from a BRAVO/WBP transmittal letter.};
\node[hdx] (t29h) at (1184,364) {2.9 Transactional G/L Account};
\node[qtx=3cm] (t291) at (1189,379) {\qnum{2.9.1}{Select the required action:}};
\node[qtx=1.9cm] (t2912) at (1072,377) {\qnum{2.9.1.2}{Provide a long name.}\par\vspace{16pt}Provide a short name.};
\node[qtx=3.2cm] (t291e) at (1230,414) {Requestor is directed to either: Step <<1.1.2.1.6>> to add additional legal entities or Step <<1.1.2.1.2>> to select a Transactional G/L Account, if data can be pulled from CFIN};
\node[lbl, text width=0.7cm] (text1) at (1194,405) {Extend an existing...};
\node[lbl, text width=0.8cm] (tcgl) at (1183,434) {Create a new G/L account};
\node[qtx=2.1cm] (t2911) at (1188,450) {\qnum{2.9.1.1}{Provide a definition.}\par\vspace{20pt}Provide a long name.\par\vspace{14pt}Provide a short name.};
\node[qtx=2.3cm] (t293) at (1072,518) {\qnum{2.9.3}{OPTIONAL: If you'd like to add provide an alternate language, please select it below.}};
\node[lbl, text width=1.3cm] (t293a) at (963,534) {If Alternate Language is not selected and COA is Transactional};
\node[lbl, text width=0.8cm] (t293b) at (1020,534) {If Alternate Language is selected, show <2.9.4> on same screen};
\node[lbl, text width=2cm] (t293c) at (1080,563) {If Alternate Language is not selected and COA is Local/ Statutory or Group/Consolidation};
\node[qtx=2.3cm] (t294) at (1072,576) {\qnum{2.9.4}{Provide a long name in <<Alternate Language>>.}\par\vspace{7pt}Provide a short name in <<Alternate Language>>.\par\vspace{7pt}If you'd like to provide an additional alternate language, please select it below.};
\node[lbl, text width=1.5cm] (t294a) at (998,592) {Additional text entry fields for alternate long and short names appear for each alternate language selected};
\node[lbl, text width=2.8cm] (t294b) at (998,613) {If COA is Local/Statutory or Group/Consolidation};
\node[lbl, text width=0.7cm] (t294c) at (998,623) {If COA is Transactional};
\node[qtx=1.7cm] (t295) at (1003,645) {\qnum{2.9.5}{If you need to extend to a legal entity, please provide the legal entity and the currency}};
\node[lbl, text width=0.5cm] (t295a) at (987,663) {Show if request applies to a specified group of countries and legal entity is provided};
\node[lbl, text width=0.5cm] (t295b) at (987,745) {Show if request does not apply to a specified group of countries};
\node[qtx=2.3cm] (t296) at (1072,749) {\qnum{2.9.6}{What is the local/statutory account number?}};
\node[lnk] (t296l) at (1084,781) {\underline{How do I find the local/statutory account number?}};
\node[qtx=2.3cm] (t297) at (1072,819) {\qnum{2.9.7}{What types of transactions will you be capturing?}};
\node[lbl, text width=1.7cm] (t297a) at (964,836) {If COA is Transactional and Account Type is not Balance Sheet};
\node[qtx=1.9cm] (t29821) at (969,847) {\qnum{2.9.8.2.1}{What are the first six digits (BRAVO account number) of the transactional account you wish to create?}};
\node[qtx=2.2cm] (t29822) at (969,940) {\qnum{2.9.8.2.2}{What is the functional area?}};
\node[lbl, text width=1cm] (t297b) at (1067,899) {If COA is Group/Consolidation};
\node[qtx=1.9cm] (t29811) at (969,1001) {\qnum{2.9.8.1.1}{Is this an asset, liability, equity, or intercompany account?}};
\node[qtx=1.9cm] (t29812) at (969,1060) {\qnum{2.9.8.1.2}{What are the first six digits (BRAVO account number) of the transactional account you wish to create?}};
\node[qtx=2.1cm] (t2992) at (1072,1003) {\qnum{2.9.9.2}{Based on the information you've provided, you are creating a request for a new Group/Consolidation G/L account in CFIN.}};
\node[lbl, text width=0.9cm] (t299a) at (1066,1052) {If COA is Local/ Statutory};
\node[qtx=2.7cm] (t2991) at (1060,1177) {\qnum{2.9.9.1}{Based on the information you've provided, you are creating a request for a new <<SOURCE ERP MDE>> in your system, which is a <<Transactional / Local/Statutory>> account in CFIN.}\par\vspace{3pt}For the time being, please complete and attach your local form.};
\node[qtx=3.5cm, font=\cnd\fontsize{5}{6}\selectfont] (tetc) at (1056,1283) {Extended Transactional COA's};
\node[lbl, text width=3.5cm] (tetcf) at (1056,1291) {The following fields are defaulted/provided by requestor: Chart of Accounts = answer choice in <1.2.2.3.3> (Transactional, Local/Statutory, or Group/Consolidation)\par\vspace{2pt}The following fields are enriched: Account Group, Clearing Specific to Ledger Group, Cost Element Category, Field Status Group, G/L Account Number / Cost Element Number, Only Balances in Local Currency, Open Item Management, Post Automatically Only, Posting Without Tax Allowed, Relevant to Cash Flow, Sort Key, Tax Category\par\vspace{2pt}The following fields are generated during MDM Data Entry: N/A};
\node[qtx=4.2cm, font=\cnd\fontsize{5}{6}\selectfont] (tlsc) at (1154,1283) {Local/Statutory and Group/Consolidation COA'S};
\node[lbl, text width=4.2cm] (tlscf) at (1154,1291) {The following fields are defaulted/provided by requestor: Chart of Accounts = answer choice in <1.2.2.3.3> (Transactional, Local/Statutory, or Group/Consolidation)\par\vspace{2pt}The following fields are enriched: Account Group and G/L Account Number / Cost Element Number\par\vspace{2pt}The following fields are generated during MDM Data Entry: N/A};
\node[qtx=3.5cm, font=\cnd\fontsize{5}{6}\selectfont] (tnetc) at (1056,1357) {Not Extended Transactional COA's};
\node[lbl, text width=3.5cm] (tnetcf) at (1056,1365) {The following fields are defaulted/provided by requestor: Chart of Accounts = answer choice in <1.2.2.3.3> (Transactional, Local/Statutory, or Group/Consolidation)\par\vspace{2pt}The following fields are enriched: Account Group, Cost Element Category, G/L Account Number / Cost Element Number\par\vspace{2pt}The following fields are generated during MDM Data Entry: N/A};

% ---------- texts, 2.5 / 2.6 / 2.2 / review
\node[lbl] (tdep) at (1922,363) {I need to track departmental spend};
\node[qtx=3.2cm] (t132341) at (2002,379) {\qnum{1.3.2.3.4.1.1}{How long will you be tracking departmental spend?}};
\node[lbl] (tlt12) at (2115,353) {< 12 months};
\node[lbl, text width=0.6cm] (tgt12) at (2111,364) {> 12 months or more};
\node[anchor=north west, inner sep=0pt, align=left, text=txc, font=\cnd\fontsize{6}{7.2}\selectfont] (t23) at (2145,363) {\textit{\color{gtc}(In Development)}\\2.3 Structural Internal Order\\(Project)};
\node[rlbl, text width=2.8cm] (t25a) at (1762,375) {I need to create/extend an intercompany (IC) customer/vendor \& trading partner};
\node[rhd, text width=2.8cm] (t25) at (1762,385) {2.5 IC Customer/Vendor \& Trading Partner (Local)};
\node[qtx=2.6cm] (t251) at (1769,414) {\qnum{2.5.1}{Select the required action:}};
\node[lbl] (text2) at (1713,420) {Expand an existing...};
\node[qtx=1.8cm] (t251e) at (1702,436) {Requestor is directed to step <<1.3.1.2>> and selects a local intercompany customer/ vendor to extend.};
\node[qtx=3.3cm] (t252) at (1768,471) {\qnum{2.5.2}{What is the global intercompany (IC) customer/vendor name and number you would like to request?}\par\vspace{26pt}If the local system/ERP uses a different number than the global number, please provide it below.\par\vspace{7pt}If the trading partner number is different from the global number, please provide it below.};
\node[qtx=3.3cm] (t253) at (1768,622) {\qnum{2.5.3}{Enter the company code(s) and MRC(s) (if applicable) for the IC customer/vendor extension.}\par\vspace{12pt}If you need to populate any other information, you may provide additional comments below.};
\node[rlbl] (t26a) at (1647,476) {I need to create a new local profit center};
\node[rhd] (t26) at (1647,482) {2.6 Profit Center (Local)};
\node[qtx=2.5cm] (t261b) at (1652,494) {\qnum{2.6.1}{What is the profit center number?}\par\vspace{8pt}Provide a short name for the profit center.\par\vspace{8pt}Provide a long name for the profit center.\par\vspace{8pt}What is the profit center group/ hierarchy node?};
\node[qtx=2.9cm] (t262) at (1652,633) {\qnum{2.6.2}{If the system/ERP requires a segment, please provide it below.}\par\vspace{3pt}If a specific value needs to be populated in the "person responsible" field, please provide it below.\par\vspace{3pt}If you need to populate any other information, you may provide additional comments below.};
\node[qtx=2.7cm] (t263) at (1652,741) {\qnum{2.6.3}{What is the CFIN profit center number this should map to?}};
\node[qtx=2.5cm] (t264) at (1791,794) {\qnum{2.6.4}{Please confirm an effective date to allow postings.}};
\node[lbl, text width=2.6cm] (t25f) at (1762,734) {The following fields are enriched: Account Group, Reconciliation Account, and MDM Data Enricher Comment Field};
\node[rlbl, text width=2.5cm] (t21ca) at (1913,376) {(Show for specific systems/ERPs) I need to create a new cost center for material postings, and there's no corresponding cost center in my local ERP.};
\node[rhd] (t21c) at (1913,401) {2.1 Cost Center (CFIN)};
\node[hdx] (t22) at (2018,422) {2.2 Cost Center};
\node[qtx=2.5cm] (t221) at (2024,449) {\qnum{2.2.1}{Do you intend to capture costs related to people compensation?}};
\node[hdx, text width=1.5cm] (t2221) at (1917,449) {2.2.2.1 Direct Cost Center};
\node[lbl] (tno9) at (1993,457) {Yes};
\node[lbl] (tyes9) at (2006,470) {No};
\node[qtx=1.9cm] (t22211) at (1919,471) {\qnum{2.2.2.1.1}{How many people are you accounting for?}};
\node[qtx=2.2cm] (t2221e) at (1939,522) {In situations like this, you should use an existing cost center to capture people costs.};
\node[qtx=2.3cm] (t2222) at (2024,506) {\qnum{2.2.2.2}{Are you capturing CNIS, Warehouse, Site Expense or Charge-In costs?}};
\node[hdx, text width=0.9cm] (t22221) at (2005,553) {2.2.2.2.1 Production Cost Center};
\node[hdx, text width=1.6cm] (t22222) at (2052,559) {2.2.2.2.2 Indirect Cost Center};
\node[qtx=3cm] (t222) at (2024,598) {\qnum{2.2.2}{Provide a long name.}\par\vspace{10pt}Provide a short name.\par\vspace{10pt}If you'd like to add an alternate language, please select it below.};
\node[lbl, text width=0.7cm] (t222a) at (1970,619) {If Alternate Language is not selected};
\node[lbl, text width=1.6cm] (t222b) at (2017,689) {If Alternate Language is selected, show <2.2.3> on same screen};
\node[qtx=3cm] (t223) at (2022,703) {\qnum{2.2.3}{Provide a long name in the <<ALTERNATE LANGUAGE>>.}\par\vspace{8pt}Provide a short name in the <<ALTERNATE LANGUAGE>>.};
\node[qtx=2.8cm] (t224) at (2022,784) {\qnum{2.2.4}{What is the financial system ID?}};
\node[qtx=2.4cm] (t225) at (2022,831) {\qnum{2.2.5}{What is the legal entity?}};
\node[lbl] (t225a) at (1947,838) {If sector in <1.3.2.1> is Plasma};
\node[lbl, text width=0.8cm] (t225b) at (2017,843) {If sector in <1.3.2.1> is Non-Operating};
\node[qtx=2.4cm] (t2261) at (1918,866) {\qnum{2.2.6.1}{What is the profit center?}};
\node[qtx=2.4cm] (t2262) at (2022,900) {\qnum{2.2.6.2}{What is the profit center?}};
\node[qtx=2.6cm] (t227) at (2022,969) {\qnum{2.2.7}{What accountable function are you creating this for?}};
\node[qtx=2.6cm] (t228) at (2022,1052) {\qnum{2.2.8}{What is the functional area?}};
\node[qtx=2.2cm] (t229) at (2022,1108) {\qnum{2.2.9}{Please confirm an effective date to allow postings.}};
\node[lbl] (t229a) at (1968,1117) {If cost center is CFIN};
\node[lbl, text width=0.5cm] (t229b) at (2005,1127) {If Cost Center is local};
\node[qtx=1.8cm] (t22101) at (1929,1143) {\qnum{2.2.10.1}{Based on the information you've provided, you are creating a request for a new cost center in CFIN.}};
\node[qtx=2.3cm] (t22102) at (2022,1166) {\qnum{2.2.10.2}{Based on the information you've provided, you are creating a request for a new <<SOURCE ERP MDE>> in your system, which is a cost center in CFIN.}\par\vspace{3pt}For the time being, please complete and attach your local form.};
\node[lnk] (t22102l) at (2040,1228) {\underline{Find a local form}};
\node[lbl, text width=3.3cm] (t22f) at (2017,1313) {The following fields are defaulted/provided by requestor: Controlling Area = JAUG, Control Tab: Lock Indicator for Actual Revenue Postings = selected, Language Key = English, Person Responsible = PHB and Valid To Date = 12/31/9999\par\vspace{2pt}The following fields are enriched: Accountable Geography Key, Cost Center Hierarchy Node and Currency\par\vspace{2pt}The following fields are generated during MDM Data Entry: Cost Center Number (local ERP and CFIN) and Department};
\node[anchor=north west, inner sep=0pt, text=txc, font=\cnd\itshape\fontsize{12}{14}\selectfont] (t40) at (2019,1410) {4.0 Review Requests};
\node[lbl] (tsub6) at (2249,1425) {Submit};
\node[qtx=3.4cm] (t41) at (2163,1446) {\qnum{4.1}{Requestor reviews summary of request prior to submission. Requestor may also duplicate a request and modify as needed.}};
\node[qtx=2cm] (tdone2) at (2327,1418) {You've successfully submitted your request(s)! Your request will be processed in approximately 5 days.};
\node[qtx=3cm, font=\cnd\fontsize{5.5}{6.6}\selectfont] (tbcc2) at (2315,347) {Blocking Cost Centers};
\node[lbl, text width=2.9cm] (tbcc3) at (2315,355) {The following fields are defaulted for Cost Center only: Control Tab: Commitment Update = selected, Control Tab: Lock Indicator for Actual Primary Costs = selected, Control Tab: Lock Indicator for Actual Secondary Costs = selected, Control Tab: Lock Indicator for Plan Primary Costs = selected, Control Tab: Lock Indicator for Plan Secondary Costs = selected, Control Tab: Lock Indicator for Plan Revenue = selected, Control Tab: Lock Indicator for Actual Revenue Postings = selected};
\node[qtx=3cm, font=\cnd\fontsize{5.5}{6.6}\selectfont] (tbgl) at (2315,401) {Blocking G/L Accounts};
\node[lbl, text width=2.9cm] (tbgl2) at (2315,409) {The following fields are defaulted for G/L Account only: Block for Creation (chart) = selected, Block for Planning (chart) = selected, Block for Posting (chart) = selected, Block for Posting (company) = selected if Transactional account has been extended to a company code, Mark for deletion (chart) = selected, and Mark for deletion (company) = selected};
\node[qtx=3cm, font=\cnd\fontsize{5.5}{6.6}\selectfont] (tbpc) at (2402,347) {Blocking CFIN Profit Centers};
\node[lbl, text width=2.9cm] (tbpc2) at (2402,355) {The following fields are defaulted for Profit Center only: Lock Indicator = selected};
\node[qtx=3cm, font=\cnd\fontsize{5.5}{6.6}\selectfont] (tbce) at (2402,370) {Blocking Custom CFIN Elements};
\node[lbl, text width=2.9cm] (tbce2) at (2402,378) {The following fields are defaulted for Custom Elements only: Attribute 3 = Inactive};
\node[qtx=3cm, font=\cnd\fontsize{5.5}{6.6}\selectfont] (tuam) at (2402,393) {Unblocking Any MDE};
\node[lbl, text width=2.9cm] (tuam2) at (2402,401) {The following fields are defaulted for any element: Reset any lock indicators to whatever setting applies to creating the relevant MDE (ex: to unblock a cost center, use same lock indicator selections as in creating a cost center)};

% ---------- input fields under the questions
\foreach \n/\k in {t1321/4, t12221/3, t12222/2, t1322/2, t13232/1, t13233/1, t1311/1, t13131/2, t132313/2, t132314/1, t1332/4, t1333/2, t13341/3, t13342b/1, t21211/4, t21221/2, t21222/2, t212223/1, t213/1, t21232/2, t214/1, t2151/3, t215211/1, t2912/1, t2911/1, t293/1, t294/1, t295/2, t296/1, t297/5, t29821/1, t29822/1, t29811/4, t29812/1, t252/4, t253/3, t261b/1, t262/3, t263/1, t264/1, t221/2, t22211/2, t2222/2, t222/1, t223/1, t224/1, t225/1, t2261/2, t2262/1, t227/1, t228/3, t229/1, t1313122/2, t1313123/1, tbd1/2, tbd2/2, tbd3/2, tbd4/2, tbd5/2, tbd6/2, t131313/2, t1313133/2, t1313134/2, t1313132/2, t2131/2, t2141/2, t2171/2, t2121q/2, t261/2, t1331b/2}
  {\foreach \j in {1,...,\k}
     \draw[fld] ($(\n.south west)+(18,-3+7*\j)$) rectangle ++(11,4);
   \draw[sep] ($(\n.south west)+(18,5+7*\k)$) -- ++(52,0);}
\end{tikzpicture}
\end{document}
